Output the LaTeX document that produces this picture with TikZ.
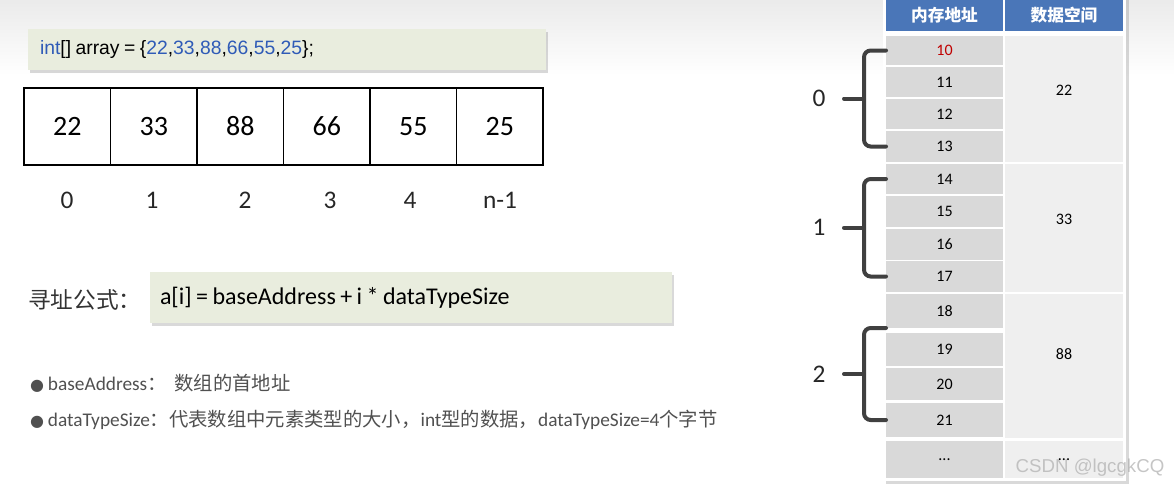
\documentclass[tikz,border=0pt]{standalone}
\usepackage{fontspec}
\setmainfont{Carlito}
\newfontfamily\codefont{Liberation Sans}
\newfontfamily\cjk{Noto Sans CJK SC}
\newfontfamily\symfont{DejaVu Sans}
\usepackage{xcolor}
\usetikzlibrary{calc,positioning,shadows}
\definecolor{codebg}{HTML}{E9EDDE}
\definecolor{codeblue}{HTML}{2F5BB7}
\definecolor{hdrblue}{HTML}{4A76B8}
\definecolor{addrgray}{HTML}{D9D9D9}
\definecolor{datagray}{HTML}{EFEFEF}
\definecolor{addrred}{HTML}{C00000}
\definecolor{notegray}{HTML}{505050}
\definecolor{bracegray}{HTML}{404040}
\newcommand{\tikzIndexBrace}[4]{
  \draw[braceline] (#2) -- ++(-22,0) coordinate (#1top) -- (#1top |- #3) coordinate (#1bot) -- (#3);
  \draw[braceline] ($(#1top)!0.5!(#1bot)$) coordinate (#1mid) -- ++(-20,0) coordinate (#1tip);
  \node[idxlabel, left=14pt of #1tip] (#1) {#4};
}

\begin{document}
\begin{tikzpicture}[x=0.75pt, y=-0.75pt,
  every node/.style={inner sep=0pt, outer sep=0pt},
  greenbox/.style={fill=codebg, drop shadow={shadow xshift=1.5pt, shadow yshift=-2.5pt, opacity=0.3}, align=left},
  arrcell/.style={draw, line width=1.2pt, fill=white, minimum width=64.9pt, minimum height=57.75pt, font=\fontsize{21}{24}\selectfont},
  idxlabel/.style={font=\fontsize{19}{22}\selectfont, text=black!85},
  note/.style={anchor=west, text=notegray, font=\fontsize{14.5}{17}\selectfont},
  hdr/.style={fill=hdrblue, text=white, minimum height=23.25pt, font=\cjk\bfseries\fontsize{12.5}{14}\selectfont},
  addr/.style={fill=addrgray, minimum width=87.75pt, font=\fontsize{12}{14}\selectfont},
  data/.style={fill=datagray, minimum width=88.5pt, font=\fontsize{12}{14}\selectfont},
  braceline/.style={draw=bracegray, line width=3pt, rounded corners=5pt, line cap=round}]
  \useasboundingbox (0,0) rectangle (1174,497);
  \shade[top color=black!8, bottom color=white] (0,0) rectangle (1174,75);

  % declaration and the array
  \node[greenbox, minimum width=388.5pt, minimum height=30.75pt, text width=370.5pt, inner xsep=9pt] (decl) at (287,49.5)
    {\codefont\fontsize{14.5}{17}\selectfont\textcolor{codeblue}{int}[] array = \{\textcolor{codeblue}{22},\textcolor{codeblue}{33},\textcolor{codeblue}{88},\textcolor{codeblue}{66},\textcolor{codeblue}{55},\textcolor{codeblue}{25}\};};
  \node[arrcell] (c0) at (67.25,126.5) {22};
  \node[arrcell] (c1) at (153.75,126.5) {33};
  \node[arrcell] (c2) at (240.25,126.5) {88};
  \node[arrcell] (c3) at (326.75,126.5) {66};
  \node[arrcell] (c4) at (413.25,126.5) {55};
  \node[arrcell] (c5) at (499.75,126.5) {25};
  \node[idxlabel] (i0) at (67,200) {0};
  \node[idxlabel] (i1) at (152,200) {1};
  \node[idxlabel] (i2) at (245,200) {2};
  \node[idxlabel] (i3) at (330,200) {3};
  \node[idxlabel] (i4) at (410,200) {4};
  \node[idxlabel] (in) at (500,200) {n-1};

  % addressing formula
  \node[anchor=west, text=black!80, font=\cjk\fontsize{17}{20}\selectfont] (ftitle) at (28,300) {寻址公式：};
  \node[greenbox, minimum width=391.5pt, minimum height=38.25pt, text width=376.5pt, inner xsep=7.5pt] (formula) at (411,297.5)
    {\fontsize{18}{21}\selectfont a[i] = baseAddress + i * dataTypeSize};
  \node[note] (n1) at (30,383) {{\symfont\fontsize{12}{14}\selectfont ●}\hspace{3pt}baseAddress{\cjk：\hspace{6pt}数组的首地址}};
  \node[note] (n2) at (30,420) {{\symfont\fontsize{12}{14}\selectfont ●}\hspace{3pt}dataTypeSize{\cjk：代表数组中元素类型的大小，}int{\cjk 型的数据，}dataTypeSize=4{\cjk 个字节}};

  % memory table
  \fill[white, drop shadow={shadow xshift=2pt, shadow yshift=-2pt, opacity=0.3}] (883,-3) rectangle (1126,481);
  \node[hdr, minimum width=87.75pt] (haddr) at (944.5,15.5) {内存地址};
  \node[hdr, minimum width=88.5pt] (hdata) at (1064,15.5) {数据空间};
  \node[addr, minimum height=21.75pt, text=addrred] (a10) at (944.5,50.5) {10};
  \node[addr, minimum height=22.5pt] (a11) at (944.5,82) {11};
  \node[addr, minimum height=22.5pt] (a12) at (944.5,114) {12};
  \node[addr, minimum height=23.25pt] (a13) at (944.5,146.5) {13};
  \node[addr, minimum height=22.5pt] (a14) at (944.5,179) {14};
  \node[addr, minimum height=23.25pt] (a15) at (944.5,211.5) {15};
  \node[addr, minimum height=23.25pt] (a16) at (944.5,244.5) {16};
  \node[addr, minimum height=23.25pt] (a17) at (944.5,276.5) {17};
  \node[addr, minimum height=25.5pt] (a18) at (944.5,311) {18};
  \node[addr, minimum height=24.75pt] (a19) at (944.5,349.5) {19};
  \node[addr, minimum height=24pt] (a20) at (944.5,384) {20};
  \node[addr, minimum height=25.5pt] (a21) at (944.5,420) {21};
  \node[addr, minimum height=27.75pt] (amore) at (944.5,459.5) {...};
  \node[data, minimum height=94.5pt, text depth=13.5pt] (d0) at (1064,99) {22};
  \node[data, minimum height=96pt, text depth=13.5pt] (d1) at (1064,228) {33};
  \node[data, minimum height=108pt, text depth=18pt] (d2) at (1064,366) {88};
  \node[data, minimum height=27.75pt] (dmore) at (1064,459.5) {...};

  % braces: array index -> four bytes
  \tikzIndexBrace{g0}{a10.west}{a13.west}{0}
  \tikzIndexBrace{g1}{a14.west}{a17.west}{1}
  \tikzIndexBrace{g2}{a18.south west}{a21.west}{2}

  \node[text=gray!60, text opacity=0.75, font=\codefont\fontsize{14}{16}\selectfont] (mark) at (1090,468) {CSDN @lgcgkCQ};
\end{tikzpicture}
\end{document}
